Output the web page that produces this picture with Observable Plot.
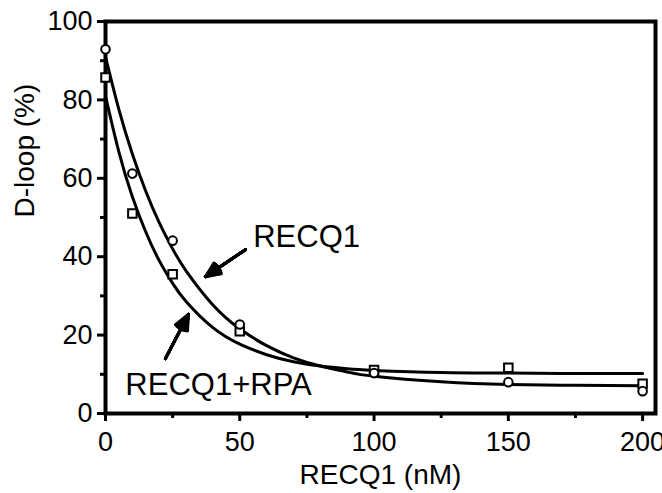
<!DOCTYPE html>
<html>
<head>
<meta charset="utf-8">
<script src="https://cdn.jsdelivr.net/npm/d3@7"></script>
<script src="https://cdn.jsdelivr.net/npm/@observablehq/plot@0.6"></script>
<style>
  html, body { margin: 0; padding: 0; background: #fff; }
  #chart { width: 662px; height: 493px; overflow: hidden; }
</style>
</head>
<body>
<div id="chart"></div>
<script>
// Measured data (RECQ1 concentration in nM vs D-loop %)
const doses = [0, 10, 25, 50, 100, 150, 200];
const recq1 = [92.9, 61.2, 44.1, 22.7, 10.3, 8.0, 5.7];
const recq1Rpa = [85.7, 51.0, 35.5, 21.0, 11.1, 11.7, 7.6];

// Fitted curves
const curveX = [0, 5, 10, 15, 20, 25, 30, 40, 50, 60, 70, 80, 90, 100, 125, 150, 175, 200];
const recq1Curve = [91, 77.5, 66.2, 56.7, 48.7, 42, 36.4, 27.7, 21.6, 17.3, 14.2, 12.1, 10.6, 9.5, 8.1, 7.4, 7.2, 7.1];
const recq1RpaCurve = [81, 66.7, 55.3, 46.3, 39, 33.2, 28.6, 21.9, 17.7, 15, 13.2, 12.1, 11.4, 11, 10.45, 10.3, 10.2, 10.2];

// Axes
const xTicks = [0, 50, 100, 150, 200];
const xMinorTicks = [25, 75, 125, 175];
const yTicks = [0, 20, 40, 60, 80, 100];
const yMinorTicks = [10, 30, 50, 70, 90];
const xLabel = "RECQ1 (nM)";
const yLabel = "D-loop (%)";

// Annotations (data coordinates)
const labelText = ["RECQ1", "RECQ1+RPA"];
const labelX = [55, 7.4];
const labelY = [42.6, 4.6];
const arrowX1 = [52.1, 22.3];
const arrowY1 = [41.8, 14.0];
const arrowX2 = [37.2, 30.9];
const arrowY2 = [34.9, 25.3];

const ptsA = doses.map((d, i) => ({x: d, y: recq1[i]}));
const ptsB = doses.map((d, i) => ({x: d, y: recq1Rpa[i]}));
const curA = curveX.map((d, i) => ({x: d, y: recq1Curve[i]}));
const curB = curveX.map((d, i) => ({x: d, y: recq1RpaCurve[i]}));
const labels = labelText.map((t, i) => ({text: t, x: labelX[i], y: labelY[i]}));
const arrows = arrowX1.map((d, i) => ({x1: d, y1: arrowY1[i], x2: arrowX2[i], y2: arrowY2[i]}));

const font = "'Liberation Sans', Arial, Helvetica, sans-serif";

const plot = Plot.plot({
  width: 662,
  height: 493,
  marginLeft: 105,
  marginRight: 7,
  marginTop: 21,
  marginBottom: 80,
  style: {fontFamily: font, fontSize: "27px", color: "black", background: "white", overflow: "visible"},
  x: {domain: [0, 204.8]},
  y: {domain: [0, 100]},
  marks: [
    Plot.axisX({ticks: xTicks, tickSize: 8, strokeWidth: 3, tickPadding: 10, fontSize: 27, label: null}),
    Plot.axisX({ticks: xMinorTicks, tickSize: 5, strokeWidth: 3, tickFormat: () => "", label: null}),
    Plot.axisY({ticks: yTicks, tickSize: 8, strokeWidth: 3, tickPadding: 5, fontSize: 27, label: null}),
    Plot.axisY({ticks: yMinorTicks, tickSize: 5, strokeWidth: 3, tickFormat: () => "", label: null}),
    Plot.frame({strokeWidth: 4, stroke: "black"}),
    Plot.line(curA, {x: "x", y: "y", curve: "natural", stroke: "black", strokeWidth: 3}),
    Plot.line(curB, {x: "x", y: "y", curve: "natural", stroke: "black", strokeWidth: 3}),
    Plot.dot(ptsB, {x: "x", y: "y", symbol: "square", r: 4.8, stroke: "black", strokeWidth: 2, fill: "white"}),
    Plot.dot(ptsA, {x: "x", y: "y", symbol: "circle", r: 4.3, stroke: "black", strokeWidth: 2, fill: "white"}),
    ...[8, 16, 24, 32, 40, 48].map(a =>
      Plot.arrow(arrows, {x1: "x1", y1: "y1", x2: "x2", y2: "y2", stroke: "black", strokeWidth: 3, headLength: 15, headAngle: a})
    ),
    Plot.text(labels, {x: "x", y: "y", text: "text", textAnchor: "start", lineAnchor: "bottom", fontSize: 31, fill: "black"}),
    Plot.text([xLabel], {frameAnchor: "bottom", dy: 70, lineAnchor: "bottom", fontSize: 28, fill: "black"}),
    Plot.text([yLabel], {frameAnchor: "left", dx: -72, rotate: -90, lineAnchor: "bottom", fontSize: 28, fill: "black"})
  ]
});
document.getElementById("chart").appendChild(plot);
</script>
</body>
</html>
